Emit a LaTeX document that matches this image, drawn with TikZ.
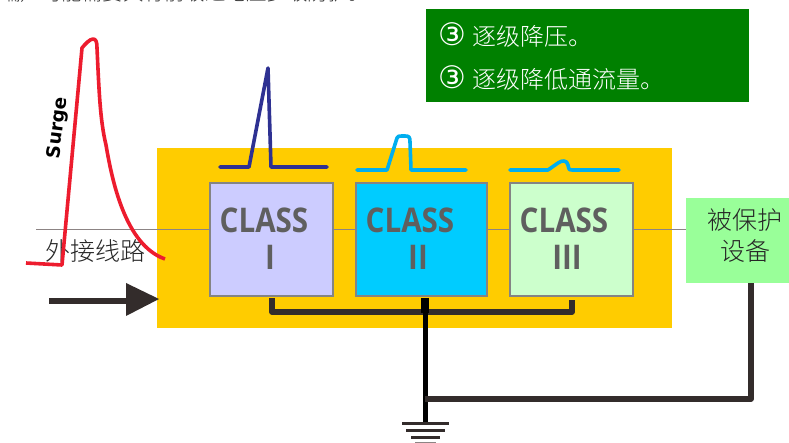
\documentclass[tikz,border=0pt]{standalone}
\usepackage{fontspec}
\setmainfont{Liberation Sans}
\newfontfamily\cjk{Noto Sans CJK SC Light}[BoldFont={Noto Sans CJK SC}]
\newfontfamily\classfont{Open Sans}
\newfontfamily\circfont{DejaVu Sans}
\definecolor{gold}{HTML}{FFCC00}
\definecolor{barbrown}{HTML}{332C2B}
\definecolor{surgered}{HTML}{ED1C2E}
\definecolor{pulseblue}{HTML}{2E3192}
\definecolor{pulsecyan}{HTML}{00AEEF}
\definecolor{boxedge}{HTML}{848484}
\definecolor{wiregray}{HTML}{8C8484}
\definecolor{textgray}{HTML}{5F5F5F}
\definecolor{darkgreen}{HTML}{008000}
\newcommand{\clabel}[1]{\scalebox{0.87}[1]{#1}}
\newcommand{\circnum}{\makebox[34pt][l]{\circfont\fontsize{31}{31}\selectfont ③}}
\tikzset{
  x=1pt,y=-1pt,
  classbox/.style={draw=boxedge,line width=2pt,minimum height=113.5pt,inner sep=0pt,anchor=north west},
  classlabel/.style={font=\classfont\bfseries\fontsize{34}{44}\selectfont,text=textgray,align=center,inner sep=0pt},
  cjklabel/.style={font=\cjk\fontsize{25}{30}\selectfont,inner sep=0pt,text=black!85},
  notelabel/.style={font=\cjk\fontsize{24}{24}\selectfont,text=white,anchor=west,inner sep=0pt},
  wire/.style={draw=wiregray,line width=1pt},
  bus/.style={draw=barbrown,line width=5.5pt,line join=round},
  pulse/.style={line width=3.6pt,line cap=round,line join=round},
}
\begin{document}
\begin{tikzpicture}
\useasboundingbox (0,0) rectangle (789,443);
\fill[white] (0,0) rectangle (789,443);
% clipped line at top edge
\node[font=\cjk\fontsize{20.5}{20.5}\selectfont,text=black!80,anchor=base west,inner sep=0pt] (cut) at (0,0.5) {端）可能需要具有前级过电压多级防护。};
% green note
\node[fill=darkgreen,minimum width=323pt,minimum height=93pt,anchor=north west,inner sep=0pt] (note) at (426,9) {};
\node[notelabel] (n1) at (438,35) {\circnum 逐级降压。};
\node[notelabel] (n2) at (438,78) {\circnum 逐级降低通流量。};
% gold panel
\node[fill=gold,minimum width=515pt,minimum height=180pt,anchor=north west,inner sep=0pt] (panel) at (157,148) {};
% wires and boxes
\coordinate (wirestart) at (36,230);
\node[fill={rgb,255:red,153;green,255;blue,153},minimum width=103pt,minimum height=85pt,anchor=north west,inner sep=0pt] (dev) at (686,198) {};
\node[classbox,minimum width=123pt,fill={rgb,255:red,204;green,204;blue,255}] (c1) at (209,182) {};
\node[classbox,minimum width=131pt,fill={rgb,255:red,0;green,204;blue,255}] (c2) at (355,182) {};
\node[classbox,minimum width=123pt,fill={rgb,255:red,204;green,255;blue,204}] (c3) at (509,182) {};
\draw[wire] (wirestart) -- (c1.west |- wirestart);
\draw[wire] (c1.east |- wirestart) -- (c2.west |- wirestart);
\draw[wire] (c2.east |- wirestart) -- (c3.west |- wirestart);
\draw[wire] (c3.east |- wirestart) -- (dev.west |- wirestart);
% labels
\node[classlabel] (l1a) at (264,220) {\clabel{CLASS}};
\node[classlabel] (l1b) at (270,257) {\clabel{I}};
\node[classlabel] (l2a) at (410,220) {\clabel{CLASS}};
\node[classlabel] (l2b) at (418,257) {\clabel{II}};
\node[classlabel] (l3a) at (564,220) {\clabel{CLASS}};
\node[classlabel] (l3b) at (567,257) {\clabel{III}};
\node[cjklabel] (ext) at (95,251) {外接线路};
\node[cjklabel] (d1) at (745,220) {被保护};
\node[cjklabel] (d2) at (745,251) {设备};
% surge curve
\draw[surgered,line width=3.6pt,line join=round,line cap=butt]
 (26,263) -- (62,265) -- (82,48)
 .. controls (85,44) and (90,39) .. (93,39)
 .. controls (96,39) and (97,42) .. (97,48)
 .. controls (99,90) and (100,120) .. (106,145)
 .. controls (112,180) and (125,245) .. (165,259);
\node[font=\circfont\bfseries\fontsize{18.5}{18.5}\selectfont,rotate=83,inner sep=0pt] (surge) at (58,128) {Surge};
% arrow
\coordinate (arrowstart) at (49,301);
\node[inner sep=0pt,minimum size=0pt] (arrowend) at (159,299) {};
\fill[barbrown] (126,283) -- (arrowend.center) -- (126,316) -- cycle;
\draw[barbrown,line width=5.5pt] (arrowstart) -- (127,301);
% pulses
\draw[pulse,pulseblue] (220,167) -- (249,167) -- (268,68) -- (271,167) -- (327,167);
\draw[pulse,pulsecyan] (357,170) -- (387,170) -- (397,138)
  .. controls (398,136) and (399,136) .. (402,136) -- (405,136)
  .. controls (409,136) and (410,137) .. (410,142) -- (411,170) -- (466,170);
\draw[pulse,pulsecyan] (510,170) -- (548,170) -- (558,163)
  .. controls (562,160) and (567,160) .. (568,165) .. controls (569,170) and (569,170) .. (573,170) -- (619,170);
% buses
\coordinate (gndtop) at (425,298);
\coordinate (gndjoin) at (425,399);
\coordinate (gnd) at (425,423);
\draw[bus] (272,298) -- (272,312) -- (572,312) -- (572,300);
\draw[black,line width=8pt] (gndtop) -- (425,313);
\draw[black,line width=5pt] (425,313) -- (gnd);
\draw[bus] (gndjoin) -- (751,399) -- (751,283);
\draw[barbrown,line width=3.4pt] (402,423.5) -- (449,423.5);
\draw[barbrown,line width=3.4pt] (406,430.5) -- (445,430.5);
\draw[barbrown,line width=3.4pt] (411,437.5) -- (440,437.5);
\draw[wiregray,line width=1.8pt] (415,442.5) -- (436,442.5);
\end{tikzpicture}
\end{document}
